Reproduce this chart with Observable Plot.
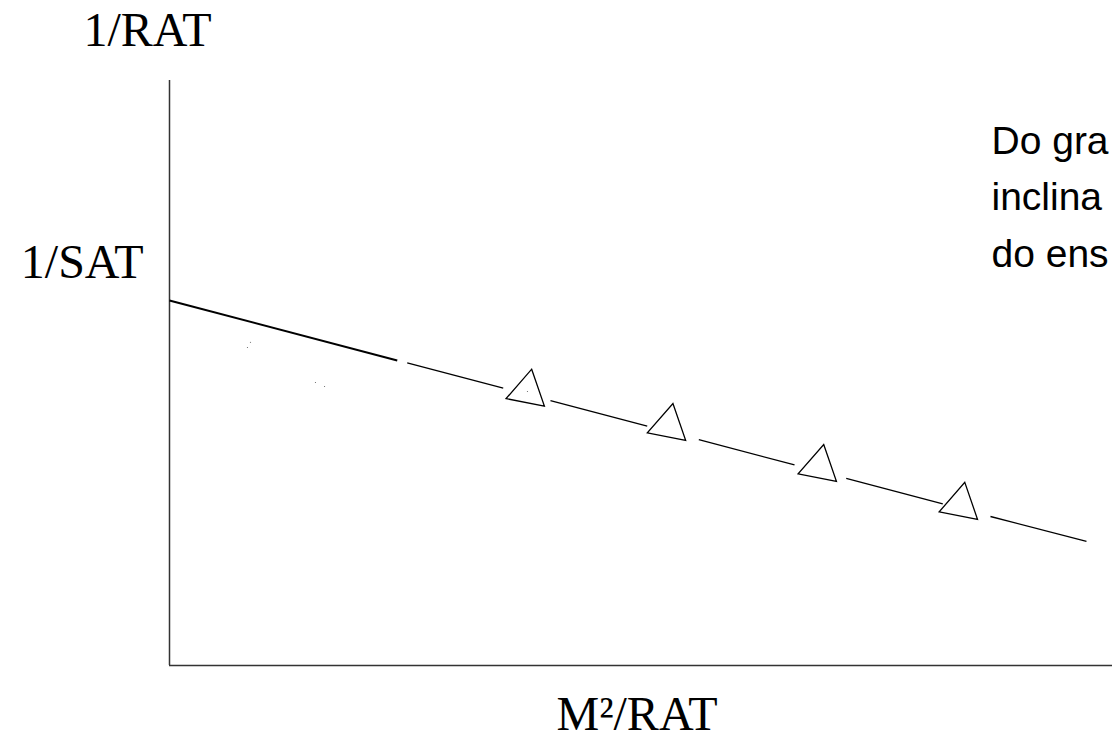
<!DOCTYPE html>
<html>
<head>
<meta charset="utf-8">
<script src="https://cdn.jsdelivr.net/npm/d3@7"></script>
<script src="https://cdn.jsdelivr.net/npm/@observablehq/plot@0.6"></script>
<style>
  html, body { margin: 0; padding: 0; background: #fff; overflow: hidden; }
</style>
</head>
<body>
<div id="chart"></div>
<script>
// Labels
const yAxisLabel = "1/RAT";
const xAxisLabel = "M²/RAT";
const interceptLabel = "1/SAT";
// Note text as visible in the reference (cut by the picture's right edge)
const noteLines = ["Do gra", "inclina", "do ens"];

// Arbitrary units (axes carry no ticks)
const intercept = 62.4;

// Fitted line, drawn as segments (solid extrapolation, then broken around the points)
const segX1 = [0, 25.21, 40.40, 56.13, 71.76, 87.06];
const segY1 = [62.39, 51.71, 45.26, 38.60, 31.97, 25.47];
const segX2 = [24.15, 35.39, 50.66, 66.28, 82.00, 97.24];
const segY2 = [52.14, 47.40, 40.92, 34.29, 27.62, 21.20];

// Experimental points (triangles)
const ptX = [37.95, 52.93, 68.92, 83.88];
const ptY = [46.87, 41.01, 34.00, 27.52];

// Stray specks in the original figure
const speckX = [8.59, 8.27, 15.48, 16.44, 37.96];
const speckY = [55.26, 54.36, 48.38, 47.69, 46.84];

const segments = segX1.map((x1, i) => ({x1, y1: segY1[i], x2: segX2[i], y2: segY2[i], i}));
const points = ptX.map((x, i) => ({x, y: ptY[i]}));
const specks = speckX.map((x, i) => ({x, y: speckY[i]}));

const serif = "'Liberation Serif', 'Times New Roman', serif";
const sans = "'Liberation Sans', Arial, sans-serif";

const chart = Plot.plot({
  width: 1112,
  height: 740,
  marginLeft: 169,
  marginRight: 0,
  marginTop: 80,
  marginBottom: 75,
  x: {domain: [0, 100], axis: null},
  y: {domain: [0, 100], axis: null},
  style: {background: "#fff", overflow: "hidden"},
  marks: [
    // axes
    Plot.ruleX([0], {y1: 0, y2: 100, stroke: "#333", strokeWidth: 1.5}),
    Plot.ruleY([0], {x1: 0, x2: 100, stroke: "#333", strokeWidth: 1.5}),
    // fitted line
    Plot.link(segments, {
      x1: "x1", y1: "y1", x2: "x2", y2: "y2",
      stroke: "#000",
      strokeWidth: d => d.i === 0 ? 2 : 1.3
    }),
    // points
    Plot.dot(points, {
      x: "x", y: "y", symbol: "triangle", r: 14.5, rotate: 11,
      stroke: "#000", strokeWidth: 1.3, fill: "none"
    }),
    Plot.dot(specks, {x: "x", y: "y", r: 0.6, fill: "#666", stroke: "none"}),
    // axis labels
    Plot.text([yAxisLabel], {
      frameAnchor: "top-left", dx: -86, dy: -35,
      textAnchor: "start", lineAnchor: "bottom",
      fontFamily: serif, fontSize: 48, fill: "#000"
    }),
    Plot.text([interceptLabel], {
      y: [intercept], frameAnchor: "left", dx: -26, dy: -22,
      textAnchor: "end", lineAnchor: "bottom",
      fontFamily: serif, fontSize: 48, fill: "#000"
    }),
    Plot.text([xAxisLabel], {
      frameAnchor: "bottom", dx: -4, dy: 64,
      textAnchor: "middle", lineAnchor: "bottom",
      fontFamily: serif, fontSize: 48, fill: "#000"
    }),
    // note (cut by the right edge in the reference)
    Plot.text([noteLines.join("\n")], {
      frameAnchor: "top-left", dx: 822, dy: 186,
      textAnchor: "start", lineAnchor: "bottom", lineHeight: 1.44,
      fontFamily: sans, fontSize: 39, fill: "#000"
    })
  ]
});

document.getElementById("chart").appendChild(chart);
</script>
</body>
</html>
